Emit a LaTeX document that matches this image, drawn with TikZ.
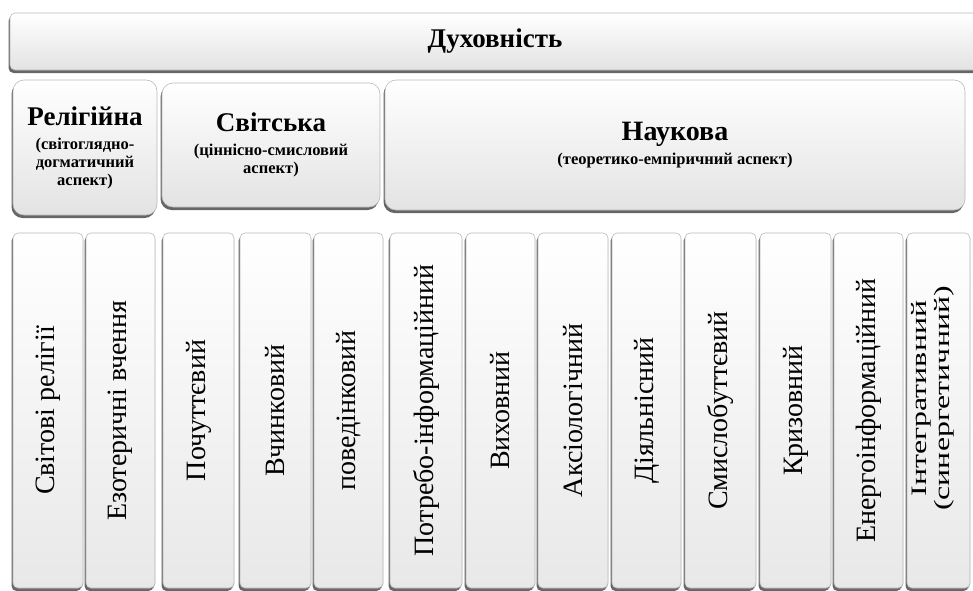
\documentclass[tikz,border=0pt]{standalone}
\usepackage{fontspec}
\setmainfont{Liberation Serif}[BoldFont={Liberation Serif Bold}]
\usepackage{graphicx}
\usetikzlibrary{positioning,shadows}

\begin{document}
\begin{tikzpicture}[x=1pt, y=-1pt, every node/.style={inner sep=0pt, align=center}, box/.style={draw=gray!55, line width=0.6pt, top color=white, middle color=white, bottom color=gray!22, drop shadow={shadow xshift=-1.5pt, shadow yshift=-3pt, fill=black!75, opacity=.8}}, topbox/.style={box, rounded corners=5pt}, aspect/.style={box, rounded corners=11pt, font=\bfseries\fontsize{16.5}{18}\selectfont}, item/.style={box, rounded corners=5pt, bottom color=gray!18, font=\fontsize{28}{30}\selectfont, drop shadow={shadow xshift=0pt, shadow yshift=-1.5pt, fill=black!55, opacity=.6}}]
\useasboundingbox (0,0) rectangle (973,590);
% top level
\node[topbox, minimum width=970, minimum height=57, font=\bfseries\fontsize{27}{30}\selectfont] (spirit) at (495,41.5) {Духовність};
% three aspects
\node[aspect, minimum width=144, minimum height=135] (rel) at (85,147.5) {{\fontsize{27}{30}\selectfont Релігійна}\\[6pt](світоглядно-\\догматичний\\аспект)};
\node[aspect, minimum width=218, minimum height=124] (sec) at (271,145) {{\fontsize{27}{30}\selectfont Світська}\\[6pt](ціннісно-смисловий\\аспект)};
\node[aspect, minimum width=580, minimum height=130] (sci) at (675,145) {{\fontsize{28}{30}\selectfont Наукова}\\[6pt](теоретико-емпіричний аспект)};
% columns
\foreach \l/\r/\t [count=\i] in {13/83/Світові релігії, 86/155/Езотеричні вчення, 163/234/Почуттєвий, 240/311/Вчинковий, 314/383/поведінковий, 390/462/Потребо-інформаційний, 466/535/Виховний, 538/608/Аксіологічний, 612/681/Діяльнісний, 685/756/Смислобуттєвий, 760/831/Кризовний, 834/903/Енергоінформаційний}
  \node[item, minimum width=\r-\l, minimum height=355] (c\i) at ({(\l+\r)/2},410.5) {\rotatebox{90}{\t}};
\node[item, minimum width=63, minimum height=355, font=\fontsize{22}{23}\selectfont] (c13) at (938.5,410.5) {\hspace*{-10pt}\raisebox{24pt}{\rotatebox{90}{\scalebox{1.45}[1]{\begin{tabular}{@{}c@{}}Інтегративний\\(синергетичний)\end{tabular}}}}};
\end{tikzpicture}
\end{document}
